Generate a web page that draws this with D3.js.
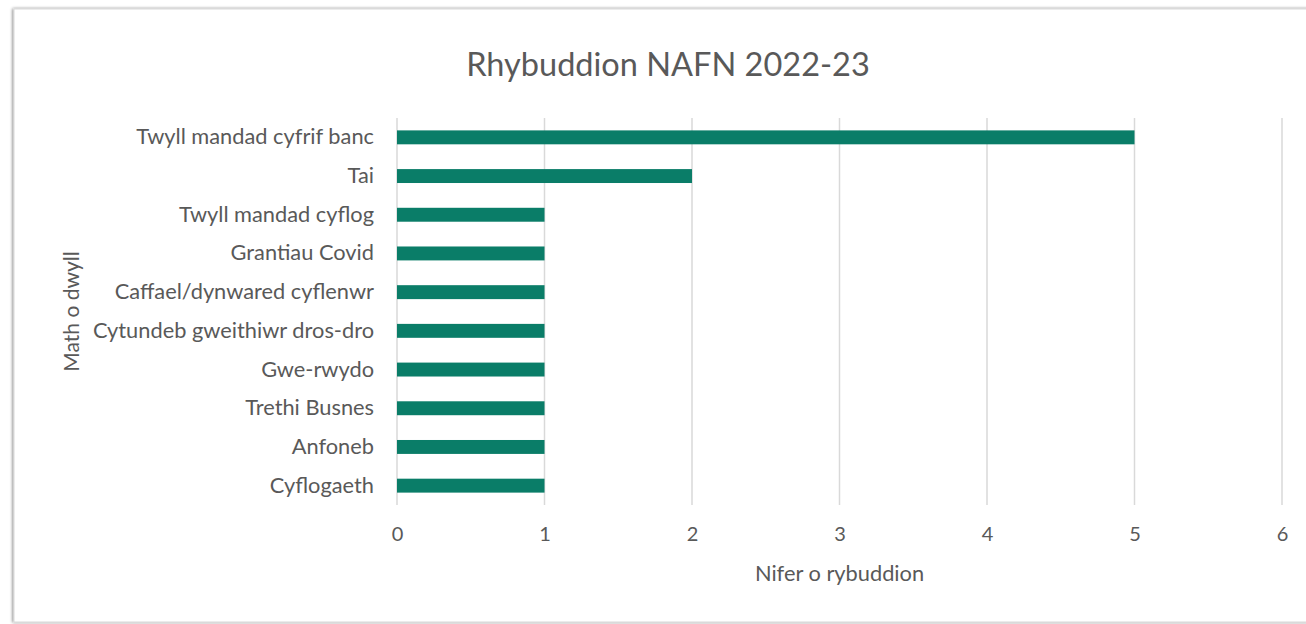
<!DOCTYPE html>
<html><head><meta charset="utf-8">
<script src="https://cdn.jsdelivr.net/npm/d3@7"></script>
<style>html,body{margin:0;padding:0;background:#fff;} svg{display:block;}</style>
</head><body>
<svg id="chart" width="1306" height="624"></svg>
<script>
const title = "Rhybuddion NAFN 2022-23";
const categories = ["Twyll mandad cyfrif banc","Tai","Twyll mandad cyflog","Grantiau Covid","Caffael/dynwared cyflenwr","Cytundeb gweithiwr dros-dro","Gwe-rwydo","Trethi Busnes","Anfoneb","Cyflogaeth"];
const values = [5,2,1,1,1,1,1,1,1,1];
const xTicks = [0,1,2,3,4,5,6];
const xAxisTitle = "Nifer o rybuddion";
const yAxisTitle = "Math o dwyll";

(function(){
const svg = d3.select("#chart");
const font = "Lato, 'Open Sans', sans-serif";
const textColor = "#595959";

// frame with soft shadow
const defs = svg.append("defs");
const f = defs.append("filter").attr("id","sh").attr("x","-5%").attr("y","-5%").attr("width","110%").attr("height","110%");
f.append("feGaussianBlur").attr("in","SourceAlpha").attr("stdDeviation",1.5);
f.append("feOffset").attr("dx",-1).attr("dy",0).attr("result","b");
f.append("feComponentTransfer").append("feFuncA").attr("type","linear").attr("slope",0.5);
const m = f.append("feMerge"); m.append("feMergeNode"); m.append("feMergeNode").attr("in","SourceGraphic");
svg.append("rect").attr("x",14).attr("y",9).attr("width",1300).attr("height",613)
  .attr("fill","#fff").attr("stroke","#d9d9d9").attr("stroke-width",1).attr("filter","url(#sh)");

const pLeft = 397, pRight = 1282, pTop = 118, pBottom = 505;
const x = d3.scaleLinear().domain([0,6]).range([pLeft,pRight]);
const y = d3.scaleBand().domain(categories).range([pTop,pBottom]).paddingInner(0.64).paddingOuter(0.32);

// gridlines
svg.append("g").selectAll("line").data(xTicks).join("line")
  .attr("x1",d=>x(d)).attr("x2",d=>x(d)).attr("y1",pTop).attr("y2",pBottom)
  .attr("stroke","#d9d9d9").attr("stroke-width",1.5);

// bars
svg.append("g").selectAll("rect").data(values).join("rect")
  .attr("x",x(0)).attr("y",(d,i)=>y(categories[i])).attr("width",d=>x(d)-x(0)).attr("height",y.bandwidth())
  .attr("fill","#0a7d68");

// x axis
const xa = svg.append("g").attr("transform",`translate(0,${pBottom})`).call(d3.axisBottom(x).tickValues(xTicks).tickSize(0).tickPadding(22).tickFormat(d3.format("d")));
xa.select(".domain").remove();
xa.selectAll("text").attr("fill",textColor).style("font-family",font).style("font-size","20px");

// y axis
const ya = svg.append("g").attr("transform",`translate(${pLeft},0)`).call(d3.axisLeft(y).tickSize(0).tickPadding(23));
ya.select(".domain").remove();
ya.selectAll("text").attr("fill",textColor).style("font-family",font).style("font-size","21.8px");

svg.append("text").attr("x",668).attr("y",76).attr("text-anchor","middle").attr("fill",textColor)
  .style("font-family",font).style("font-size","32.5px").text(title);
svg.append("text").attr("x",(pLeft+pRight)/2).attr("y",581).attr("text-anchor","middle").attr("fill",textColor)
  .style("font-family",font).style("font-size","21.8px").text(xAxisTitle);
svg.append("text").attr("transform",`translate(79,${(pTop+pBottom)/2}) rotate(-90)`).attr("text-anchor","middle").attr("fill",textColor)
  .style("font-family",font).style("font-size","21px").text(yAxisTitle);
})();
</script>
</body></html>
